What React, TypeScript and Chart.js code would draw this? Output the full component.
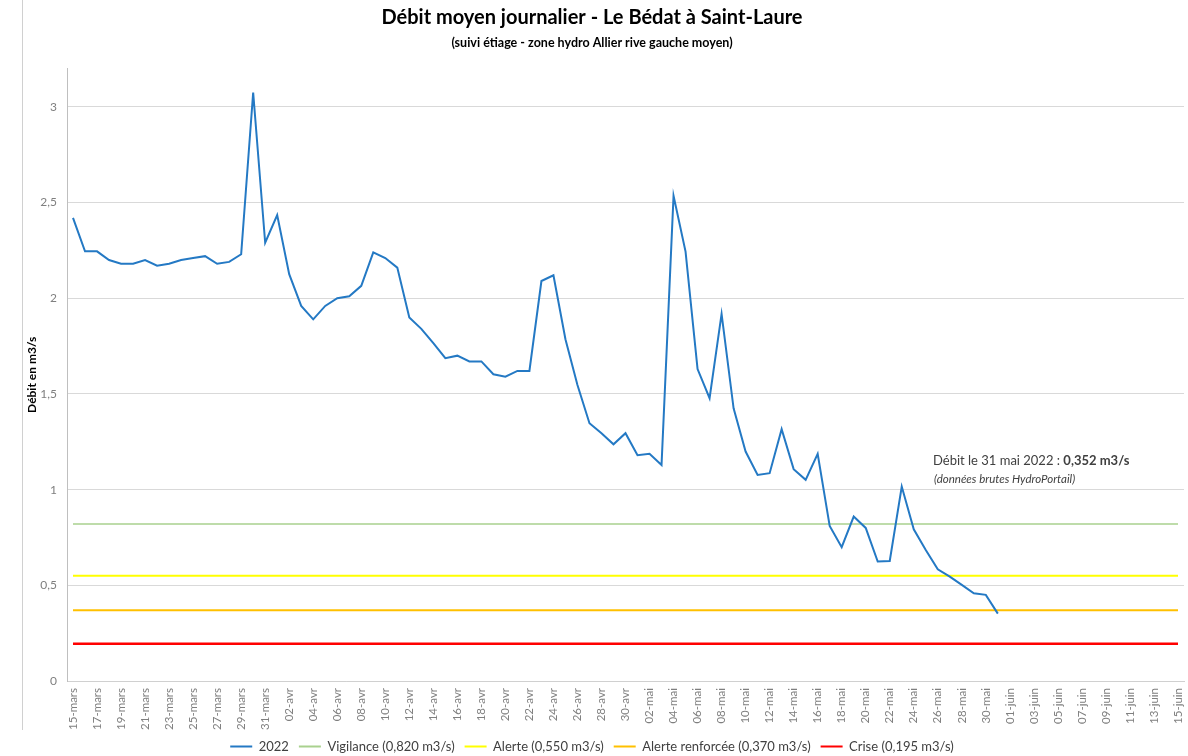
import React, { useEffect, useRef } from 'react';
import { Chart, registerables } from 'chart.js';

Chart.register(...registerables);

const FONT = 'Lato, "Open Sans", sans-serif';

// Category axis: daily dates from 15 March to 15 June
const MONTHS = [
  { name: 'mars', first: 15, last: 31 },
  { name: 'avr', first: 1, last: 30 },
  { name: 'mai', first: 1, last: 31 },
  { name: 'juin', first: 1, last: 15 },
];
const categories: string[] = [];
for (const m of MONTHS) {
  for (let d = m.first; d <= m.last; d++) categories.push(String(d).padStart(2, '0') + '-' + m.name);
}

// Daily mean discharge 2022 (m3/s), 15 March -> 31 May
const debit2022 = [
  2.42, 2.245, 2.245, 2.20, 2.18, 2.18, 2.20, 2.17, 2.18, 2.20,
  2.21, 2.22, 2.18, 2.19, 2.23, 3.075, 2.29, 2.435, 2.126, 1.96,
  1.89, 1.96, 2.00, 2.01, 2.065, 2.24, 2.21, 2.16, 1.90, 1.84,
  1.765, 1.687, 1.70, 1.67, 1.67, 1.603, 1.59, 1.62, 1.62, 2.09,
  2.12, 1.786, 1.547, 1.347, 1.295, 1.237, 1.295, 1.18, 1.187, 1.129,
  2.535, 2.244, 1.63, 1.478, 1.918, 1.425, 1.199, 1.077, 1.086, 1.316,
  1.107, 1.051, 1.187, 0.81, 0.699, 0.859, 0.80, 0.624, 0.627, 1.016,
  0.793, 0.685, 0.584, 0.545, 0.502, 0.458, 0.45, 0.352,
];

// Thresholds (m3/s)
const thresholdValues = [0.82, 0.55, 0.37, 0.195];
const thresholdLabels = [
  'Vigilance (0,820 m3/s)',
  'Alerte (0,550 m3/s)',
  'Alerte renforcée (0,370 m3/s)',
  'Crise (0,195 m3/s)',
];
const thresholdColors = ['#a9d18e', '#ffff00', '#ffc000', '#ff0000'];
const thresholdWidths = [1.5, 2, 2, 2.5];

const SERIES_LABEL = '2022';
const SERIES_COLOR = '#2479c4';

const TITLE = 'Débit moyen journalier - Le Bédat à Saint-Laure';
const SUBTITLE = '(suivi étiage - zone hydro Allier rive gauche moyen)';
const Y_TITLE = 'Débit en m3/s';
const Y_MAX = 3.2;
const Y_TICK_MAX = 3;
const Y_STEP = 0.5;

const ANNOT_DATE = '31 mai 2022';
const ANNOT_NOTE = '(données brutes HydroPortail)';
const ANNOT_X_INDEX = 71.6;
const ANNOT_Y_VALUE = 1.15;

const fmt = (v: number, digits?: number) =>
  (digits !== undefined ? v.toFixed(digits) : String(v)).replace('.', ',');

const framePlugin = {
  id: 'frame',
  beforeDraw(chart: any) {
    const { ctx, width, height } = chart;
    ctx.save();
    ctx.fillStyle = '#ffffff';
    ctx.fillRect(0, 0, width, height);
    ctx.strokeStyle = '#d0d0d0';
    ctx.lineWidth = 1;
    ctx.beginPath();
    ctx.moveTo(22.5, 0);
    ctx.lineTo(22.5, 730);
    ctx.stroke();
    ctx.restore();
  },
};

const annotationPlugin = {
  id: 'annot',
  afterDatasetsDraw(chart: any) {
    const { ctx, scales } = chart;
    const x = scales.x.getPixelForValue(ANNOT_X_INDEX);
    const y = scales.y.getPixelForValue(ANNOT_Y_VALUE);
    const last = debit2022[debit2022.length - 1];
    ctx.save();
    ctx.fillStyle = '#404040';
    ctx.textBaseline = 'middle';
    ctx.textAlign = 'left';
    ctx.font = `13px ${FONT}`;
    const part1 = `Débit le ${ANNOT_DATE} : `;
    ctx.fillText(part1, x, y);
    const w1 = ctx.measureText(part1).width;
    ctx.font = `bold 13px ${FONT}`;
    ctx.fillText(`${fmt(last, 3)} m3/s`, x + w1, y);
    ctx.font = `italic 11.5px ${FONT}`;
    ctx.fillText(ANNOT_NOTE, x + 1, y + 18);
    ctx.restore();
  },
};

export default function App() {
  const canvasRef = useRef<HTMLCanvasElement | null>(null);

  useEffect(() => {
    document.body.style.margin = '0';
    const canvas = canvasRef.current;
    if (!canvas) return;

    const datasets: any[] = [
      {
        label: SERIES_LABEL,
        data: debit2022,
        borderColor: SERIES_COLOR,
        backgroundColor: SERIES_COLOR,
        borderWidth: 2,
        pointRadius: 0,
        tension: 0,
      },
      ...thresholdValues.map((v, i) => ({
        label: thresholdLabels[i],
        data: categories.map(() => v),
        borderColor: thresholdColors[i],
        backgroundColor: thresholdColors[i],
        borderWidth: thresholdWidths[i],
        pointRadius: 0,
      })),
    ];

    const chart = new Chart(canvas, {
      type: 'line',
      data: { labels: categories, datasets },
      options: {
        animation: false,
        responsive: false,
        maintainAspectRatio: false,
        layout: { padding: { top: 0, left: 0, right: 4, bottom: -7 } },
        plugins: {
          title: {
            display: true,
            text: TITLE,
            color: '#000000',
            font: { family: FONT, size: 20, weight: 'bold' },
            padding: { top: 6, bottom: 5.4 },
          },
          subtitle: {
            display: true,
            text: SUBTITLE,
            color: '#000000',
            font: { family: FONT, size: 12.5, weight: 'bold' },
            padding: { top: 0, bottom: 18.2 },
          },
          legend: {
            position: 'bottom',
            labels: {
              boxWidth: 22,
              boxHeight: 2,
              padding: 10,
              color: '#404040',
              font: { family: FONT, size: 13 },
              generateLabels: (c: any) =>
                (Chart.defaults.plugins.legend.labels as any)
                  .generateLabels(c)
                  .map((l: any) => ({ ...l, fillStyle: l.strokeStyle, lineWidth: 0 })),
            },
          },
          tooltip: { enabled: false },
        },
        scales: {
          x: {
            type: 'category',
            offset: true,
            grid: { display: false, drawTicks: false },
            border: { display: true, color: '#d0d0d0' },
            ticks: {
              autoSkip: false,
              maxRotation: 90,
              minRotation: 90,
              padding: 7,
              color: '#7f7f7f',
              font: { family: FONT, size: 11.5 },
              callback: (_v: any, i: number) => (i % 2 === 0 ? categories[i] : ''),
            },
            afterFit: (s: any) => {
              s.height = 49;
              s.paddingLeft = 0;
              s.paddingRight = 0;
            },
          },
          y: {
            min: 0,
            max: Y_MAX,
            ticks: {
              stepSize: Y_STEP,
              padding: 10,
              color: '#7f7f7f',
              font: { family: FONT, size: 12 },
              callback: (v: any) => fmt(Number(v)),
            },
            afterBuildTicks: (s: any) => {
              s.ticks = s.ticks.filter((t: any) => t.value <= Y_TICK_MAX + 1e-6);
            },
            grid: { color: '#d9d9d9', drawTicks: false },
            border: { display: true, color: '#bfbfbf' },
            title: {
              display: true,
              text: Y_TITLE,
              color: '#000000',
              font: { family: FONT, size: 12, weight: 'bold' },
              padding: { top: 25, bottom: 0 },
            },
            afterFit: (s: any) => {
              s.width = 67;
              s.paddingTop = 0;
              s.paddingBottom = 0;
            },
          },
        },
      } as any,
      plugins: [framePlugin, annotationPlugin],
    });

    return () => chart.destroy();
  }, []);

  return (
    <div style={{ width: 1188, height: 756 }}>
      <canvas ref={canvasRef} width={1188} height={756} style={{ display: 'block' }} />
    </div>
  );
}
